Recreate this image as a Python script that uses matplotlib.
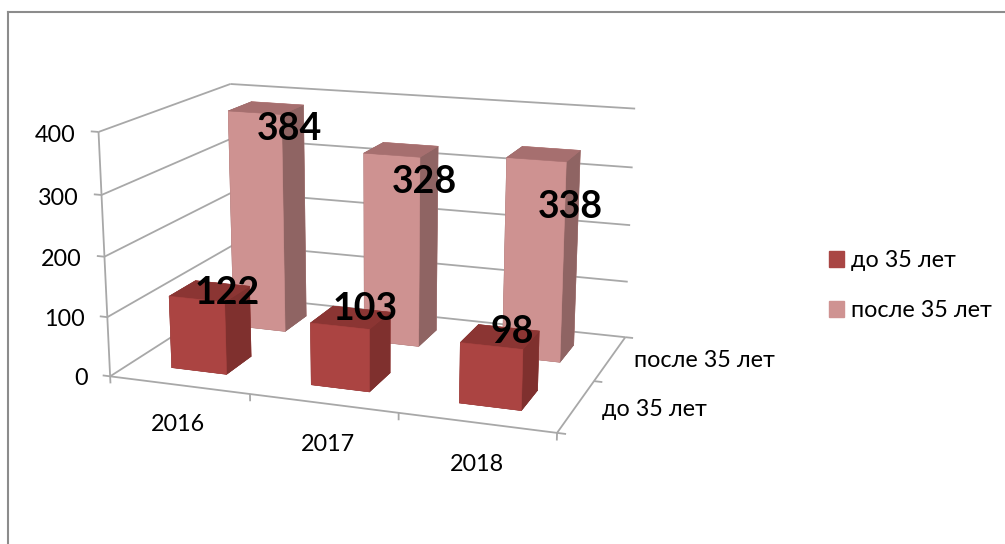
import numpy as np
import matplotlib
matplotlib.use("Agg")
import matplotlib.pyplot as plt
from matplotlib.lines import Line2D
from matplotlib.patches import Patch
from mpl_toolkits.mplot3d import Axes3D, proj3d
from mpl_toolkits.mplot3d.art3d import Line3DCollection

# ---- data ----
years = ["2016", "2017", "2018"]
series_names = ["до 35 лет", "после 35 лет"]
under_35 = [122, 103, 98]
over_35 = [384, 328, 338]
z_ticks = [0, 100, 200, 300, 400]

# ---- style ----
plt.rcParams["font.family"] = ["Lato", "Noto Sans", "DejaVu Sans"]
FS = 16.8
GRID = "#a8a8a8"
RED = dict(front="#ab4442", top="#8b3533", side="#7f302e", legend="#a94644")
PINK = dict(front="#ce9291", top="#a66f6f", side="#8f6463", legend="#cf9392")

# Excel's fixed camera: axes corners (category, series, value) -> image pixels
calib_3d = np.array([
    (0, 0, 0), (0, 0, 100), (0, 0, 200), (0, 0, 300), (0, 0, 400),
    (3, 0, 0), (0, 2, 0), (0, 2, 400),
    (3, 2, 0), (3, 2, 100), (3, 2, 200), (3, 2, 300), (3, 2, 400)], float)
calib_px = np.array([
    (109, 376), (108, 318), (105, 256), (102, 195), (98, 132),
    (557, 433), (236, 296), (230, 84),
    (625, 337), (628, 282), (630, 225), (633, 167), (635, 109)], float)


def camera():
    X = calib_3d * [1, 1, 0.01]
    rows = []
    for (a, b, c), (u, v) in zip(X, calib_px):
        rows.append([a, b, c, 1, 0, 0, 0, 0, -u * a, -u * b, -u * c, -u])
        rows.append([0, 0, 0, 0, a, b, c, 1, -v * a, -v * b, -v * c, -v])
    P = np.linalg.svd(np.array(rows))[2][-1].reshape(3, 4)
    P[:, 2] *= 0.01
    P /= P[2, 3]
    # depth: larger = farther; the visible sides are front, top and right
    depth = [-0.2, 1.0, -0.002, 1.0]
    return np.array([P[0], P[1], depth, P[2]])


class CameraAxes(Axes3D):
    def get_proj(self):
        return camera()

    def apply_aspect(self, position=None):
        self._set_position(self.get_position(original=True), "active")


fig = plt.figure(figsize=(10.05, 5.44), dpi=100, facecolor="white")
ax = CameraAxes(fig, [0, 0, 1, 1], computed_zorder=False)
fig.add_axes(ax)
ax.set_xticks([])
ax.set_yticks([])
ax.set_zticks([])
ax.set_axis_off()
ax.patch.set_visible(False)
ax.viewLim.intervalx = (0, 1005)
ax.viewLim.intervaly = (544, 0)

n_cat, n_ser = len(years), len(series_names)
zmax = z_ticks[-1]


def label(x, y, z, s, **kw):
    """Text anchored at a 3D data point, placed through the camera."""
    u, v, _ = proj3d.proj_transform(x, y, z, camera())
    ax.annotate(s, (float(u), float(v)), xycoords="data", va="center", color="black",
                zorder=5, annotation_clip=False, **kw)


# walls, floor and tick marks
segs = []
for z in z_ticks:
    segs.append([(-0.055, 0, z), (0, 0, z)])
    segs.append([(0, 0, z), (0, n_ser, z)])
    segs.append([(0, n_ser, z), (n_cat, n_ser, z)])
segs.append([(0, 0, 0), (0, 0, zmax)])
segs.append([(0, 0, 0), (n_cat, 0, 0)])
segs.append([(n_cat, 0, 0), (n_cat, n_ser, 0)])
for i in range(n_cat + 1):
    segs.append([(i, 0, 0), (i, 0, -12)])
for j in range(n_ser + 1):
    segs.append([(n_cat, j, 0), (n_cat + 0.055, j, 0)])
ax.add_collection3d(Line3DCollection(segs, colors=GRID, linewidths=1.3, zorder=1))


# bars
def bar(i, j, value, c, zo):
    w = 0.4
    faces = [c["side"], c["top"], c["front"], c["front"], c["side"], c["side"]]
    col = ax.bar3d(i + 0.3, j + 0.3, 0, w, w, value, color=faces, shade=False, zorder=zo)
    col.set_linewidth(0.4)
    col.set_edgecolor(faces)


for i, v in enumerate(over_35):
    bar(i, 1, v, PINK, 2 + i * 0.1)
for i, v in enumerate(under_35):
    bar(i, 0, v, RED, 3 + i * 0.1)

# value labels (offsets from the middle of each bar top)
under_dx = [0.13, 0.10, 0.08]
under_dz = [0, 17, 10]
over_dx = [0.17, 0.17, 0.19]
over_dz = [-34, -53, -85]
for i, v in enumerate(under_35):
    label(i + 0.5 + under_dx[i], 0.5, v + under_dz[i], str(v), fontsize=27, fontweight="bold", ha="center")
for i, v in enumerate(over_35):
    label(i + 0.5 + over_dx[i], 1.5, v + over_dz[i], str(v), fontsize=27, fontweight="bold", ha="center")

# tick labels
for z in z_ticks:
    label(-0.165, 0, z - 9, str(z), fontsize=FS, ha="right")
year_dx = [0.66, 0.67, 0.61]
for i, y in enumerate(years):
    label(i + year_dx[i], -0.35, -31, y, fontsize=FS, ha="center")
for j, s in enumerate(series_names):
    label(n_cat + 0.165, j + 0.5, 0, s, fontsize=FS, ha="left")

# legend
handles = [Patch(color=RED["legend"], label=series_names[0]),
           Patch(color=PINK["legend"], label=series_names[1])]
fig.legend(handles=handles, loc="upper left", bbox_to_anchor=(829 / 1005, 1 - 250 / 544),
           frameon=False, fontsize=FS, handlelength=0.65, handleheight=0.65,
           handletextpad=0.3, labelspacing=1.25, borderpad=0, borderaxespad=0)

# chart-area border (only left and top are visible)
fig.add_artist(Line2D([8 / 1005, 8 / 1005], [0, 1 - 12 / 544], color="#8c8c8c", lw=1.5))
fig.add_artist(Line2D([8 / 1005, 1], [1 - 12 / 544, 1 - 12 / 544], color="#8c8c8c", lw=1.5))

fig.savefig("out.png", dpi=100)
